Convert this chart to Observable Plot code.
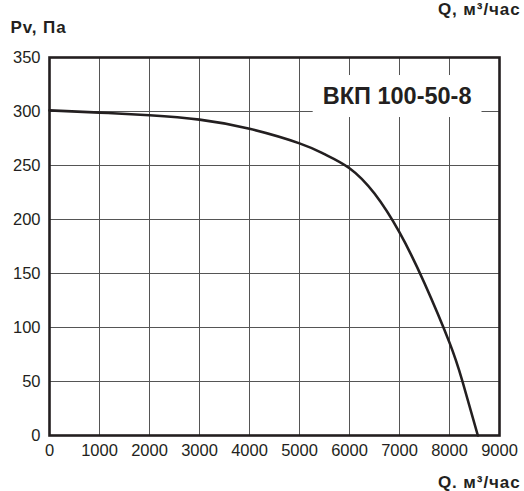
<!DOCTYPE html>
<html>
<head>
<meta charset="utf-8">
<script src="https://cdn.jsdelivr.net/npm/d3@7"></script>
<script src="https://cdn.jsdelivr.net/npm/@observablehq/plot@0.6"></script>
<style>
  html, body { margin: 0; padding: 0; background: #fff; }
  #chart svg { display: block; }
  .ttl text { letter-spacing: 0.9px; }
</style>
</head>
<body>
<div id="chart"></div>
<script>
// Fan curve data
const flowQ = [0, 1000, 2000, 3000, 4000, 5000, 5500, 6000, 6500, 7000, 7500, 8000, 8260, 8567];
const pressurePv = [301, 299, 296.5, 292.5, 284, 270.5, 260.5, 247.5, 224, 188, 141, 86, 50, 0];

const xTicks = [0, 1000, 2000, 3000, 4000, 5000, 6000, 7000, 8000, 9000];
const yTicks = [0, 50, 100, 150, 200, 250, 300, 350];

const modelLabel = "ВКП 100-50-8";
const yTitle = "Pv, Па";
const xTitleTop = "Q, м³/час";
const xTitleBottom = "Q. м³/час";

const data = flowQ.map((q, i) => ({q, pv: pressurePv[i]}));
const ink = "#231f20";

const chart = Plot.plot({
  width: 524,
  height: 491,
  marginTop: 57,
  marginLeft: 49,
  marginRight: 25,
  marginBottom: 56,
  style: {fontFamily: "'Liberation Sans', Arial, sans-serif", color: ink, background: "#fff"},
  x: {domain: [0, 9000]},
  y: {domain: [0, 350]},
  marks: [
    Plot.gridX(xTicks, {stroke: "#555", strokeOpacity: 1, strokeWidth: 1}),
    Plot.gridY(yTicks, {stroke: "#555", strokeOpacity: 1, strokeWidth: 1}),
    Plot.axisX(xTicks, {tickSize: 0, tickPadding: 9, fontSize: 16.5, label: null, fill: ink, tickFormat: d => String(d)}),
    Plot.axisY(yTicks, {tickSize: 0, tickPadding: 9, fontSize: 16.5, label: null, fill: ink, tickFormat: d => String(d)}),
    Plot.line(data, {x: "q", y: "pv", curve: "natural", stroke: ink, strokeWidth: 2.6}),
    Plot.frame({stroke: ink, strokeWidth: 2.6}),
    Plot.text([modelLabel], {frameAnchor: "top-right", text: d => d, textAnchor: "end", lineAnchor: "middle",
      dx: -28, dy: 39, fontSize: 23.5, fontWeight: "bold", fill: ink, className: "model-label"}),
    Plot.text([yTitle], {frameAnchor: "top-left", text: d => d, textAnchor: "start", lineAnchor: "bottom",
      dx: -39, dy: -24.5, fontSize: 17, fontWeight: "bold", fill: ink, className: "ttl"}),
    Plot.text([xTitleTop], {frameAnchor: "top-right", text: d => d, textAnchor: "end", lineAnchor: "bottom",
      dx: 21, dy: -42.5, fontSize: 17, fontWeight: "bold", fill: ink, className: "ttl"}),
    Plot.text([xTitleBottom], {frameAnchor: "bottom-right", text: d => d, textAnchor: "end", lineAnchor: "bottom",
      dx: 21, dy: 52, fontSize: 17, fontWeight: "bold", fill: ink, className: "ttl"})
  ]
});

document.getElementById("chart").appendChild(chart);

// white box behind the model label, sized from the text itself
const lab = d3.select(chart).select("g.model-label");
const t = lab.select("text").node();
if (t) {
  const bb = t.getBBox();
  const tr = t.getAttribute("transform");
  lab.insert("rect", "text")
    .attr("x", bb.x - 10).attr("y", bb.y - 8)
    .attr("width", bb.width + 20).attr("height", bb.height + 16)
    .attr("fill", "#fff")
    .attr("transform", tr);
}
</script>
</body>
</html>
